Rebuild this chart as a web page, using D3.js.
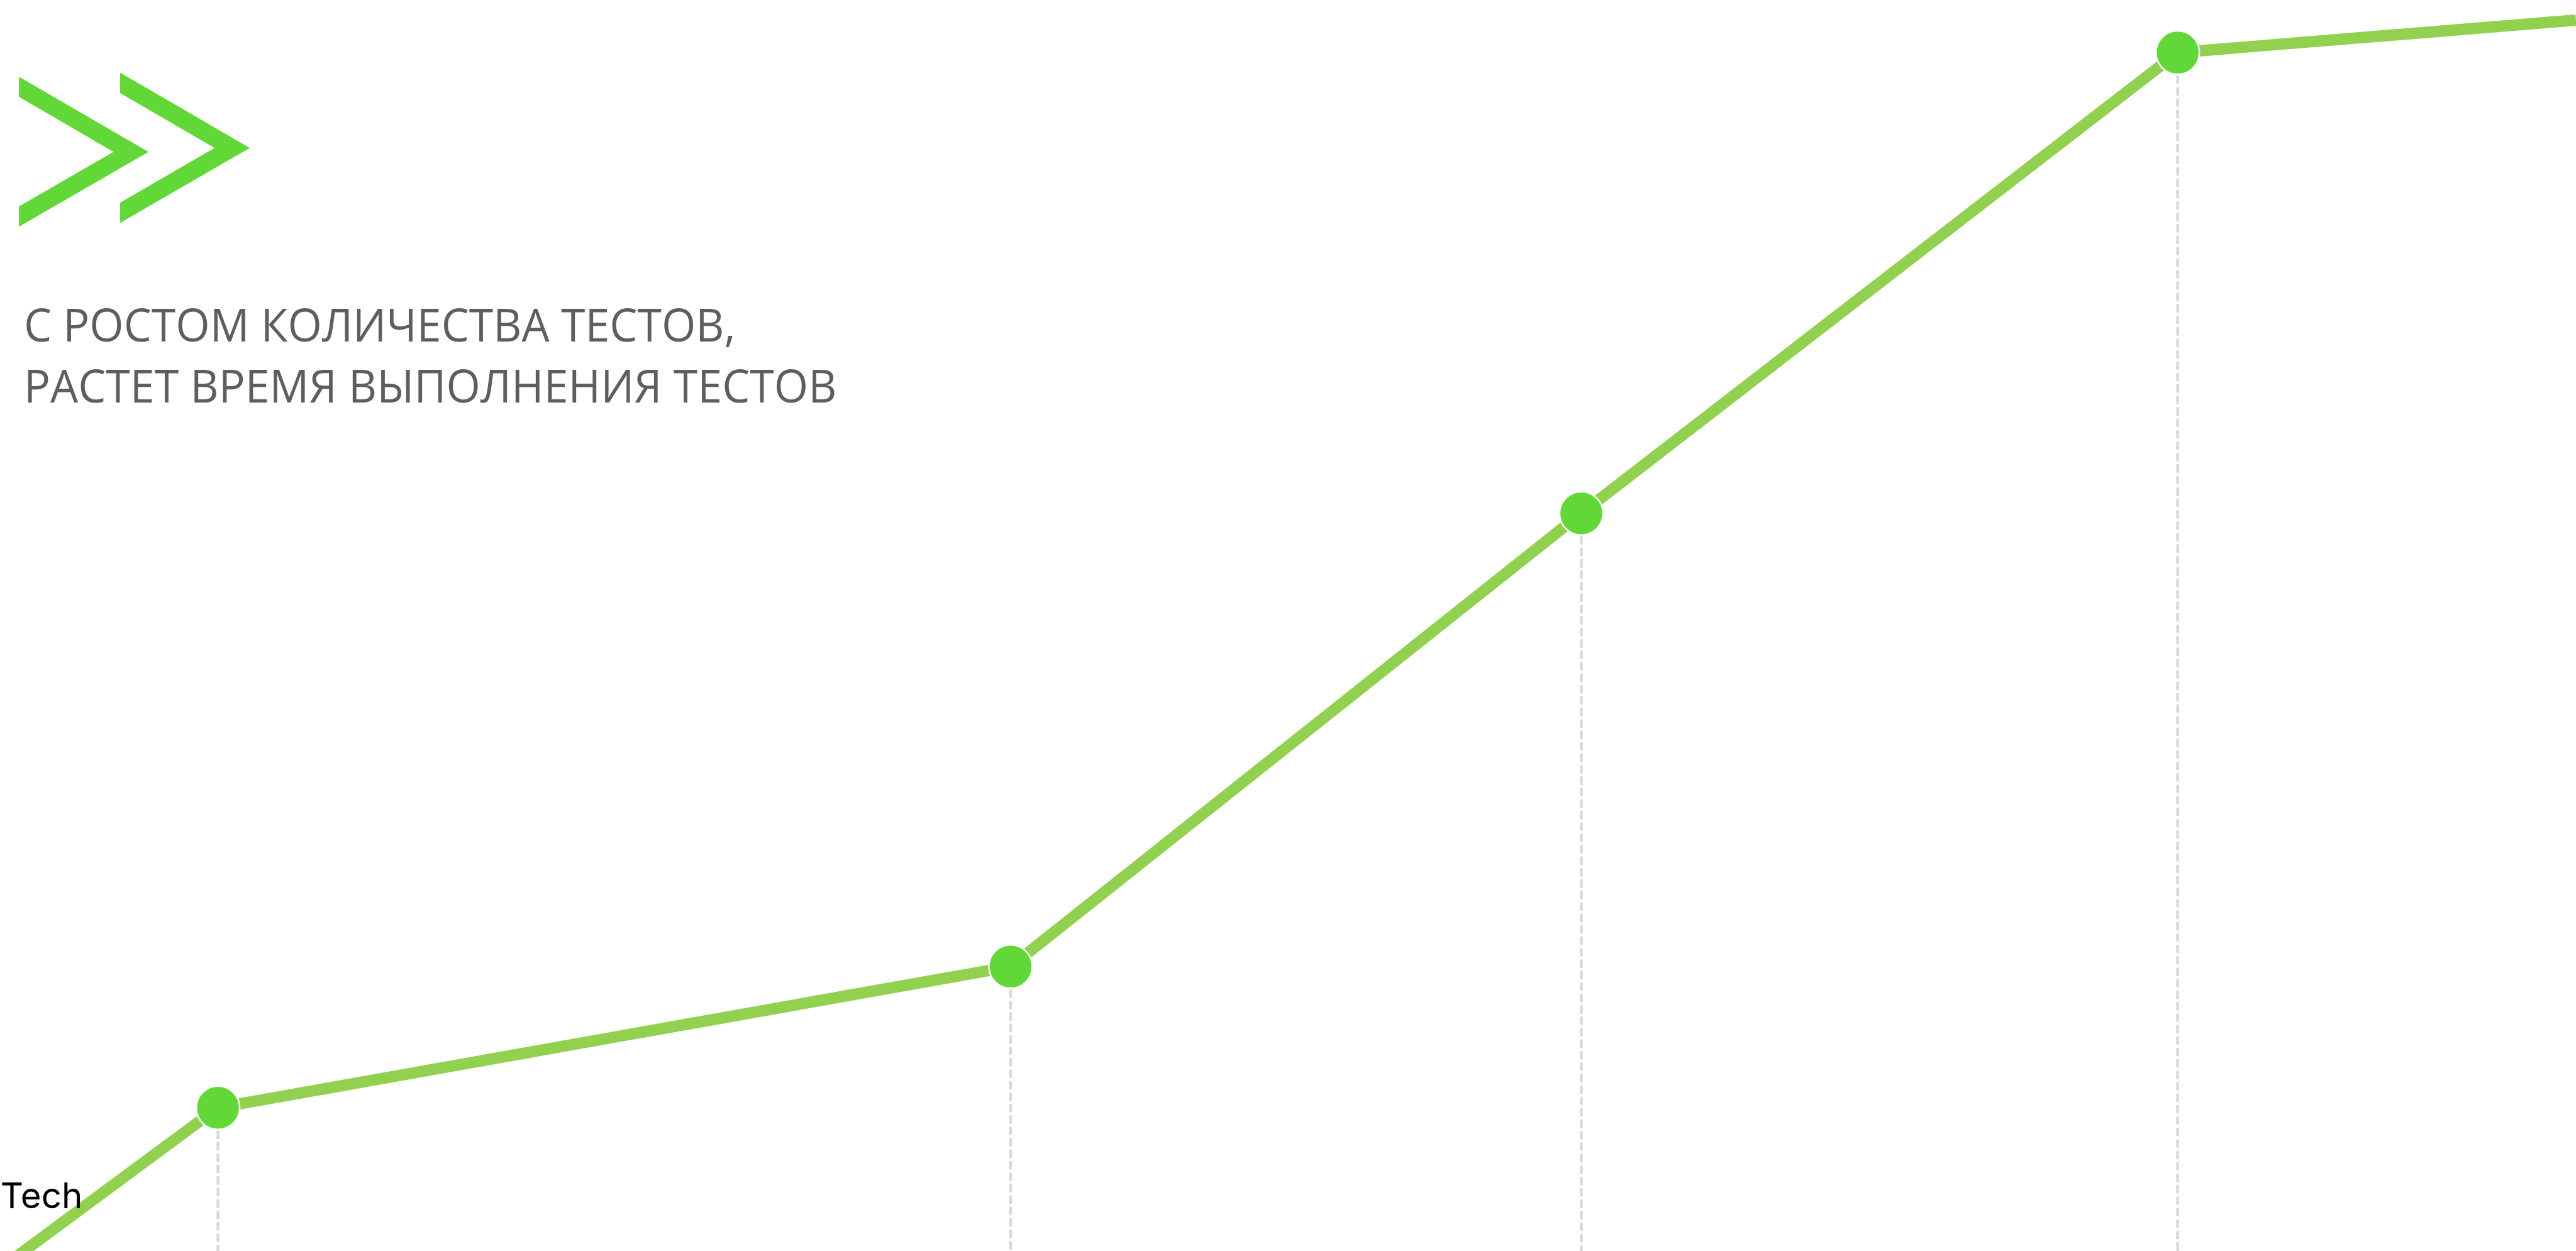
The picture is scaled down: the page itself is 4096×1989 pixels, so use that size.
<!DOCTYPE html>
<html>
<head>
<meta charset="utf-8">
<script src="https://cdn.jsdelivr.net/npm/d3@7"></script>
<style>
  html, body { margin: 0; padding: 0; background: #ffffff; overflow: hidden; }
  svg { display: block; }
</style>
</head>
<body>
<svg id="chart"></svg>
<script>
// Number of tests (x) and test run time (y); the first and last points lie at the edges of the view
const testCounts = [0, 110, 510, 798, 1099, 1300];
const runTimes   = [0, 12.9, 24.2, 60.5, 97.4, 100];
const showMarker = [false, true, true, true, true, false];

const titleLines = ["С РОСТОМ КОЛИЧЕСТВА ТЕСТОВ,", "РАСТЕТ ВРЕМЯ ВЫПОЛНЕНИЯ ТЕСТОВ"];
const brandText = "Tech";

const W = 4096, H = 1989;
const k = W / 4865; // drawing unit

const svg = d3.select("#chart").attr("width", W).attr("height", H);

const x = d3.scaleLinear().domain([0, 1300]).range([0, 4865 * k]);
const y = d3.scaleLinear().domain([0, 100]).range([2396 * k, 38 * k]);

const points = testCounts.map((t, i) => ({ t, v: runTimes[i], marker: showMarker[i] }));

// Double chevron emblem
const chevrons = [
  [[35.8, 145], [280.6, 286.7], [35.8, 428.3], [35.8, 390], [214.3, 286.7], [35.8, 183]],
  [[226.9, 137.3], [471.8, 279.3], [226.9, 421], [226.9, 382.7], [405.1, 279.3], [226.9, 175.7]]
];
svg.append("g").selectAll("polygon").data(chevrons).join("polygon")
  .attr("points", d => d.map(p => [p[0] * k, p[1] * k].join(",")).join(" "))
  .attr("fill", "#62d838");

// Title, set slightly condensed to its block width
const titleX = 45 * k, titleWidth = 1535 * k;
const titleG = svg.append("g");
const title = titleG.append("text")
  .attr("x", 0).attr("y", 645 * k)
  .attr("font-family", "'Open Sans', sans-serif")
  .attr("font-size", 87 * k)
  .attr("fill", "#5e5e5e");
title.selectAll("tspan").data(titleLines).join("tspan")
  .attr("x", 0)
  .attr("dy", (d, i) => i === 0 ? 0 : 115 * k)
  .text(d => d);
const tw = title.node().getBBox().width;
titleG.attr("transform", `translate(${titleX},0) scale(${titleWidth / tw},1)`);

const plot = svg.append("g");

// Dashed drop lines from each marker to the bottom
plot.selectAll("line.drop").data(points.filter(d => d.marker)).join("line")
  .attr("class", "drop")
  .attr("x1", d => x(d.t)).attr("x2", d => x(d.t))
  .attr("y1", d => y(d.v)).attr("y2", H)
  .attr("stroke", "#d9d9d9")
  .attr("stroke-width", 5.5 * k)
  .attr("stroke-dasharray", `${16 * k} ${5.6 * k}`);

// Run-time line
plot.append("path")
  .datum(points)
  .attr("fill", "none")
  .attr("stroke", "#92d050")
  .attr("stroke-width", 21.5 * k)
  .attr("stroke-linejoin", "round")
  .attr("d", d3.line().x(d => x(d.t)).y(d => y(d.v)));

// Markers
plot.selectAll("circle").data(points.filter(d => d.marker)).join("circle")
  .attr("cx", d => x(d.t)).attr("cy", d => y(d.v))
  .attr("r", 41 * k)
  .attr("fill", "#62d838")
  .attr("stroke", "#ffffff")
  .attr("stroke-width", 3 * k);

// Brand label at the bottom left
svg.append("text")
  .attr("x", 1 * k).attr("y", 2282 * k)
  .attr("font-family", "Inter, sans-serif")
  .attr("font-size", 67 * k)
  .attr("fill", "#000000")
  .text(brandText);
</script>
</body>
</html>
